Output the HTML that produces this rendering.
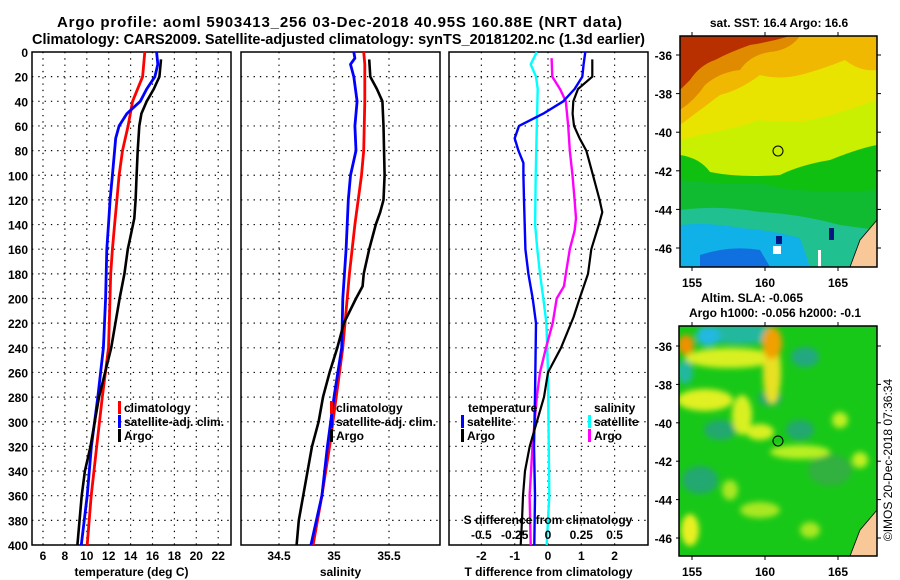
<!DOCTYPE html>
<html><head><meta charset="utf-8">
<style>
html,body{margin:0;padding:0;background:#fff;}
svg{display:block;font-family:"Liberation Sans",sans-serif;font-weight:bold;}
</style></head>
<body>
<svg id="fig" width="900" height="580" viewBox="0 0 900 580" xmlns="http://www.w3.org/2000/svg">
<defs>
<clipPath id="c1"><rect x="680" y="36" width="197" height="231"/></clipPath>
<clipPath id="c2"><rect x="679" y="326" width="198" height="230"/></clipPath>
<filter id="bl" x="-50%" y="-50%" width="200%" height="200%"><feGaussianBlur stdDeviation="3"/></filter>
</defs>
<text x="57" y="27" font-size="15" textLength="565" lengthAdjust="spacing">Argo profile: aoml 5903413_256 03-Dec-2018 40.95S 160.88E (NRT data)</text>
<text x="32" y="44" font-size="15" textLength="613" lengthAdjust="spacingAndGlyphs">Climatology: CARS2009. Satellite-adjusted climatology: synTS_20181202.nc (1.3d earlier)</text>

<!-- SST map -->
<g>
<g clip-path="url(#c1)">
<rect x="680" y="36" width="197" height="231" fill="#c8f000"/>
<path d="M680,36 H877 V100 Q850,110 820,118 Q790,125 760,120 Q730,130 700,135 L680,140 Z" fill="#e8e400"/>
<path d="M680,36 H877 V70 Q860,72 845,60 Q820,70 800,75 Q780,80 760,75 Q740,90 720,95 Q700,110 680,125 Z" fill="#f0b800"/>
<path d="M680,36 H800 Q790,50 770,52 Q750,55 740,70 Q720,72 705,85 Q695,100 680,110 Z" fill="#e08a00"/>
<path d="M680,36 H790 Q770,42 750,45 Q730,52 715,60 Q700,65 690,80 L680,90 Z" fill="#b83000"/>
<path d="M680,155 Q700,158 710,172 Q740,178 780,175 Q800,165 830,160 Q860,148 877,145 V267 H680 Z" fill="#10c010"/>
<path d="M680,180 Q720,185 760,183 Q800,195 877,190 V267 H680 Z" fill="#10b848" opacity="0.6"/>
<path d="M680,210 Q720,205 760,212 Q800,214 840,225 L877,230 V267 H680 Z" fill="#20c090"/>
<path d="M680,225 Q710,222 740,228 Q770,230 800,238 L810,267 H680 Z" fill="#10b0e8"/>
<path d="M700,255 Q730,245 760,250 L770,267 H700 Z" fill="#1070e0"/>
<rect x="773" y="246" width="8" height="8" fill="#fff"/>
<rect x="818" y="250" width="3" height="17" fill="#fff"/>
<rect x="776" y="236" width="6" height="8" fill="#001880"/>
<rect x="829" y="228" width="5" height="12" fill="#001880"/>
<path d="M877,220 L860,240 L850,267 H877 Z" fill="#f8c898" stroke="#000" stroke-width="0.8"/>
</g>
<rect x="680" y="36" width="197" height="231" fill="none" stroke="#000" stroke-width="1.5"/>
<circle cx="778" cy="151" r="5" fill="none" stroke="#000" stroke-width="1"/>
<text x="779" y="27" font-size="12" text-anchor="middle">sat. SST: 16.4 Argo: 16.6</text>
</g>

<!-- SLA map -->
<g>
<g clip-path="url(#c2)">
<rect x="679" y="326" width="198" height="230" fill="#18c818"/>
<g filter="url(#bl)">
<ellipse cx="740" cy="334" rx="40" ry="10" fill="#20b8a0"/>
<ellipse cx="708" cy="336" rx="12" ry="10" fill="#20b8e0"/>
<ellipse cx="685" cy="372" rx="8" ry="12" fill="#20b8a0"/>
<ellipse cx="805" cy="357" rx="14" ry="10" fill="#20a880"/>
<ellipse cx="770" cy="398" rx="12" ry="8" fill="#20a870"/>
<ellipse cx="720" cy="430" rx="16" ry="10" fill="#20a870"/>
<ellipse cx="800" cy="430" rx="14" ry="10" fill="#20a870"/>
<ellipse cx="700" cy="480" rx="18" ry="14" fill="#20a870"/>
<ellipse cx="830" cy="470" rx="22" ry="16" fill="#30b040"/>
<ellipse cx="730" cy="358" rx="45" ry="10" fill="#d8f020"/>
<ellipse cx="686" cy="345" rx="8" ry="10" fill="#f09000"/>
<ellipse cx="772" cy="372" rx="9" ry="32" fill="#e8e020"/>
<ellipse cx="772" cy="343" rx="10" ry="16" fill="#f0a000"/>
<ellipse cx="705" cy="400" rx="28" ry="11" fill="#e0f020"/>
<ellipse cx="742" cy="415" rx="10" ry="20" fill="#d8f020"/>
<ellipse cx="760" cy="432" rx="14" ry="8" fill="#d8f020"/>
<ellipse cx="800" cy="452" rx="30" ry="7" fill="#b8f020"/>
<ellipse cx="690" cy="530" rx="9" ry="16" fill="#e8f020"/>
<ellipse cx="840" cy="420" rx="8" ry="8" fill="#c0f020"/>
<ellipse cx="860" cy="460" rx="8" ry="8" fill="#c0f020"/>
<ellipse cx="760" cy="510" rx="20" ry="8" fill="#a8e820"/>
<ellipse cx="730" cy="490" rx="8" ry="10" fill="#a8e820"/>
<ellipse cx="810" cy="530" rx="10" ry="8" fill="#a8e820"/>
</g>
<path d="M877,510 L860,530 L850,556 H877 Z" fill="#f8c898" stroke="#000" stroke-width="0.8"/>
</g>
<rect x="679" y="326" width="198" height="230" fill="none" stroke="#000" stroke-width="1.5"/>
<circle cx="778" cy="441" r="5" fill="none" stroke="#000" stroke-width="1"/>
<text x="752" y="302" font-size="12" text-anchor="middle">Altim. SLA: -0.065</text>
<text x="775" y="317" font-size="12" text-anchor="middle">Argo h1000: -0.056 h2000: -0.1</text>
</g>
<text transform="translate(892,460) rotate(-90)" font-size="12" font-weight="normal" text-anchor="middle">©IMOS 20-Dec-2018 07:36:34</text>
<g id="dyn"></g>
</svg>
<script>
// ---- data ----
const depthTicks = [0,20,40,60,80,100,120,140,160,180,200,220,240,260,280,300,320,340,360,380,400];
const tempTicks = [6,8,10,12,14,16,18,20,22];
const salTicks = [34.5,35,35.5];
const tdiffTicks = [-2,-1,0,1,2];
const sdiffTicks = [-0.5,-0.25,0,0.25,0.5];
const sdiffTickLabels = ["-0.5","-0.25","0","0.25","0.5"];

const climTDepth = [0,20,40,60,80,100,120,140,160,180,200,240,280,320,360,400];
const climT = [15.3,15.1,14.18,13.77,13.26,12.95,12.75,12.54,12.34,12.18,12.12,11.98,11.42,10.9,10.4,10.04];
const satTDepth = [0,10,20,30,40,50,60,70,80,100,120,140,160,200,240,280,320,360,400];
const satT = [16.37,16.48,16.22,15.47,14.89,13.66,12.95,12.64,12.54,12.34,12.13,11.98,11.83,11.72,11.52,11.0,10.42,10.04,9.5];
const argoTDepth = [6,20,30,40,50,60,80,100,120,135,160,180,200,240,280,320,340,360,400];
const argoT = [16.78,16.63,16.12,15.47,14.99,14.79,14.65,14.55,14.46,14.34,13.74,13.43,13.0,12.23,11.11,10.34,9.83,9.53,9.14];

const climSDepth = [0,10,40,80,100,140,180,200,240,280,320,360,400];
const climS = [35.27,35.28,35.28,35.27,35.25,35.19,35.14,35.12,35.08,35.02,34.96,34.89,34.81];
const satSDepth = [0,5,10,20,40,60,80,100,120,160,200,240,280,320,360,400];
const satS = [35.18,35.19,35.15,35.18,35.21,35.19,35.2,35.15,35.13,35.11,35.08,35.07,35.0,34.94,34.89,34.79];
const argoSDepth = [6,20,30,40,60,100,120,130,140,160,180,190,200,220,240,260,280,300,320,340,360,380,400];
const argoS = [35.32,35.33,35.39,35.44,35.45,35.46,35.45,35.42,35.38,35.32,35.27,35.26,35.2,35.09,35.03,34.96,34.9,34.86,34.8,34.76,34.72,34.68,34.66];

const satTdDepth = [0,10,20,30,40,50,60,70,80,90,100,120,160,180,200,220,280,320,360,400];
const satTd = [1.12,1.07,1.03,0.8,0.46,-0.14,-0.87,-1.0,-0.89,-0.74,-0.74,-0.72,-0.68,-0.59,-0.46,-0.36,-0.39,-0.42,-0.39,-0.41];
const argoTdDepth = [6,20,30,40,50,60,70,80,100,120,130,140,160,180,200,215,240,260,280,320,340,360,380,400];
const argoTd = [1.33,1.33,0.9,0.76,0.74,0.78,0.95,1.15,1.35,1.55,1.63,1.53,1.3,1.2,0.95,0.77,0.39,0,-0.12,-0.55,-0.69,-0.75,-0.78,-0.82];
const satSdDepth = [0,10,20,30,60,100,140,160,180,200,220,260,300,360,400];
const satSd = [-0.084,-0.13,-0.09,-0.077,-0.084,-0.092,-0.097,-0.08,-0.06,-0.035,-0.012,0,0.004,0.01,-0.01];
const argoSdDepth = [5,20,30,40,60,80,100,120,135,145,160,180,190,200,220,240,260,280,320,360,400];
const argoSd = [0.027,0.032,0.09,0.134,0.152,0.164,0.184,0.2,0.21,0.2,0.164,0.134,0.12,0.065,0.035,-0.015,-0.06,-0.084,-0.116,-0.138,-0.13];

const mapLonTicks = [155,160,165];
const mapLatTicks = [-36,-38,-40,-42,-44,-46];

// ---- scales ----
const yD = d => 52 + d*1.2325;
const xT = t => 43 + (t-6)*10.95;
const xS = s => 279 + (s-34.5)*110;
const xTd = t => 548 + t*33.3;
const xSd = s => 548 + s*133.2;
const lonX1 = l => 692 + (l-155)*14.6;
const latY1 = l => 55 + (-36-l)*19.3;
const latY2 = l => 346 + (-36-l)*19.2;

const NS="http://www.w3.org/2000/svg";
const dyn=document.getElementById('dyn');
function mk(tag,attrs,parent){const e=document.createElementNS(NS,tag);for(const k in attrs)e.setAttribute(k,attrs[k]);(parent||dyn).appendChild(e);return e;}
function txt(s,x,y,size,anchor,parent){const e=mk('text',{x:x,y:y,'font-size':size,'text-anchor':anchor},parent);e.textContent=s;return e;}

const panels=[
 {name:'temperature-panel',x0:32,x1:231,grid:tempTicks.map(xT),ticks:tempTicks.map(String),tx:tempTicks.map(xT),title:'temperature (deg C)'},
 {name:'salinity-panel',x0:241,x1:440,grid:salTicks.map(xS),ticks:["34.5","35","35.5"],tx:salTicks.map(xS),title:'salinity'},
 {name:'difference-panel',x0:449,x1:648,grid:tdiffTicks.map(xTd),ticks:tdiffTicks.map(String),tx:tdiffTicks.map(xTd),title:'T difference from climatology'}
];
panels.forEach((p,pi)=>{
  const g=mk('g',{});
  
  
  depthTicks.forEach(d=>{
    if(d>0&&d<400){const l=mk('line',{x1:p.x0,x2:p.x1,y1:yD(d),y2:yD(d),stroke:'#000','stroke-width':1.2,'stroke-dasharray':'1.3,5'},g);
      
      }
  });
  p.grid.forEach(x=>{const l=mk('line',{x1:x,x2:x,y1:52,y2:545,stroke:'#000','stroke-width':1.2,'stroke-dasharray':'1.3,5'},g);
    
    });
  const r=mk('rect',{x:p.x0,y:52,width:p.x1-p.x0,height:493,fill:'none',stroke:'#000','stroke-width':1.5},g);
  
  
  p.ticks.forEach((s,i)=>{const t=txt(s,p.tx[i],560,12,'middle',g);
    
    });
  const tt=txt(p.title,(p.x0+p.x1)/2,576,12,'middle',g);
  
  
});
depthTicks.forEach(d=>{const t=txt(String(d),28,yD(d)+5,12,'end');
  
  });

function line(depths,vals,xf,color,w,name){
  const pts=depths.map((d,i)=>xf(vals[i]).toFixed(1)+','+yD(d).toFixed(1)).join(' ');
  const e=mk('polyline',{points:pts,fill:'none',stroke:color,'stroke-width':w,'stroke-linejoin':'round'});
  
  
}
line(climTDepth,climT,xT,'#ff0000',2.8,'climatology-temperature-line');
line(satTDepth,satT,xT,'#0000ff',2.8,'satellite-temperature-line');
line(argoTDepth,argoT,xT,'#000',2.6,'argo-temperature-line');
line(climSDepth,climS,xS,'#ff0000',2.8,'climatology-salinity-line');
line(satSDepth,satS,xS,'#0000ff',2.8,'satellite-salinity-line');
line(argoSDepth,argoS,xS,'#000',2.6,'argo-salinity-line');
line(satSdDepth,satSd,xSd,'#00ffff',2.4,'satellite-s-diff-line');
line(argoSdDepth,argoSd,xSd,'#ff00ff',2.4,'argo-s-diff-line');
line(satTdDepth,satTd,xTd,'#0000ff',2.4,'satellite-t-diff-line');
line(argoTdDepth,argoTd,xTd,'#000',2.2,'argo-t-diff-line');

function legend(x,y,color,label){
  const g=mk('g',{});
  
  
  mk('rect',{x:x,y:y-11,width:3,height:13,fill:color},g);
  txt(label,x+6,y,12,'start',g);
}
legend(118,412,'#ff0000','climatology');
legend(118,426,'#0000ff','satellite-adj. clim.');
legend(118,440,'#000','Argo');
legend(330,412,'#ff0000','climatology');
legend(330,426,'#0000ff','satellite-adj. clim.');
legend(330,440,'#000','Argo');
let t1=txt('temperature',468,412,12,'start');


legend(461,426,'#0000ff','satellite');
legend(461,440,'#000','Argo');
let t2=txt('salinity',594,412,12,'start');


legend(588,426,'#00ffff','satellite');
legend(588,440,'#ff00ff','Argo');
let st=txt('S difference from climatology',548,524,12,'middle');


sdiffTicks.forEach((s,i)=>{const t=txt(sdiffTickLabels[i],xSd(s),539,12,'middle');
  
  });

// map axes
[[36,267,latY1],[326,556,latY2]].forEach(([top,bot,ly])=>{
  mapLonTicks.forEach(l=>{
    const x=lonX1(l);
    mk('line',{x1:x,x2:x,y1:top-4,y2:top,stroke:'#000','stroke-width':1});
    mk('line',{x1:x,x2:x,y1:bot,y2:bot+4,stroke:'#000','stroke-width':1});
    const t=txt(String(l),x,bot+20,12,'middle');
    
    
  });
  mapLatTicks.forEach(l=>{
    const y=ly(l);
    mk('line',{x1:676,x2:680,y1:y,y2:y,stroke:'#000','stroke-width':1});
    mk('line',{x1:877,x2:881,y1:y,y2:y,stroke:'#000','stroke-width':1});
    const t=txt(String(l),672,y+5,12,'end');
    
    
  });
});
</script>
</body></html>
